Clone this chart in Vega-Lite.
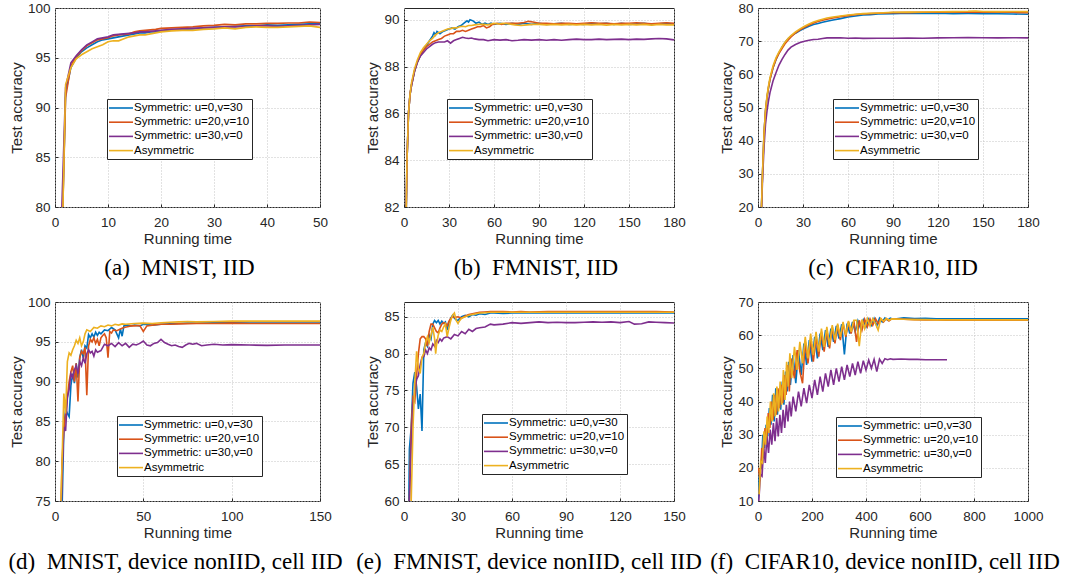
{
"$schema": "https://vega.github.io/schema/vega-lite/v6.json",
"padding": {"left": 7, "top": 0, "right": 4, "bottom": 2},
"background": "white",
"config": {
 "view": {"stroke": "#262626", "strokeWidth": 1},
 "axis": {"labelFont": "Liberation Sans", "labelFontSize": 13.5, "labelColor": "#262626", "titleFont": "Liberation Sans", "titleFontSize": 15, "titleFontWeight": "normal", "titleColor": "#262626", "domain": false, "tickColor": "#262626", "tickSize": -3, "gridColor": "#c4c4c4", "gridDash": [1, 2], "gridWidth": 1, "gridOpacity": 1, "labelFlush": false, "format": "d"},
 "axisX": {"labelPadding": 11, "titlePadding": 3},
 "axisY": {"labelPadding": 8, "titlePadding": 3},
 "legend": {"labelFont": "Liberation Sans", "labelFontSize": 11.5, "labelColor": "#000000", "symbolType": "M-2,0H2", "symbolSize": 144, "symbolStrokeWidth": 2, "symbolOffset": 5, "labelOffset": 6, "padding": 2, "rowPadding": 1.2, "strokeColor": "#262626", "fillColor": "#ffffff", "strokeWidth": 1},
 "title": {"font": "Liberation Serif", "fontSize": 23, "fontWeight": "normal", "color": "#000000", "orient": "bottom", "anchor": "middle", "frame": "group", "offset": 10},
 "line": {"strokeWidth": 1.6, "clip": true}
},
"datasets": {
 "a": [
  {"s":1,"x":1,"y":70},{"s":1,"x":2,"y":91.5},{"s":1,"x":3,"y":94},{"s":1,"x":4,"y":95},{"s":1,"x":5,"y":95.6},{"s":1,"x":6,"y":96},{"s":1,"x":7,"y":96.3},{"s":1,"x":8,"y":96.6},{"s":1,"x":9,"y":96.8},{"s":1,"x":10,"y":96.9},{"s":1,"x":11,"y":97},{"s":1,"x":12,"y":97.1},{"s":1,"x":13,"y":97.2},{"s":1,"x":14,"y":97.3},{"s":1,"x":15,"y":97.4},{"s":1,"x":16,"y":97.5},{"s":1,"x":17,"y":97.5},{"s":1,"x":18,"y":97.6},{"s":1,"x":19,"y":97.6},{"s":1,"x":20,"y":97.7},{"s":1,"x":22,"y":97.8},{"s":1,"x":24,"y":97.85},{"s":1,"x":26,"y":97.9},{"s":1,"x":28,"y":98},{"s":1,"x":30,"y":98.05},{"s":1,"x":32,"y":98.1},{"s":1,"x":34,"y":98.15},{"s":1,"x":36,"y":98.2},{"s":1,"x":38,"y":98.2},{"s":1,"x":40,"y":98.3},{"s":1,"x":42,"y":98.25},{"s":1,"x":44,"y":98.3},{"s":1,"x":46,"y":98.35},{"s":1,"x":48,"y":98.4},{"s":1,"x":50,"y":98.45},
  {"s":2,"x":1,"y":70},{"s":2,"x":2,"y":91},{"s":2,"x":3,"y":94.2},{"s":2,"x":4,"y":95.1},{"s":2,"x":5,"y":95.7},{"s":2,"x":6,"y":96.2},{"s":2,"x":7,"y":96.5},{"s":2,"x":8,"y":96.8},{"s":2,"x":9,"y":96.9},{"s":2,"x":10,"y":97},{"s":2,"x":11,"y":97.2},{"s":2,"x":12,"y":97.3},{"s":2,"x":13,"y":97.35},{"s":2,"x":14,"y":97.4},{"s":2,"x":15,"y":97.6},{"s":2,"x":16,"y":97.7},{"s":2,"x":17,"y":97.75},{"s":2,"x":18,"y":97.8},{"s":2,"x":19,"y":97.85},{"s":2,"x":20,"y":97.95},{"s":2,"x":22,"y":98},{"s":2,"x":24,"y":98.05},{"s":2,"x":26,"y":98.1},{"s":2,"x":28,"y":98.2},{"s":2,"x":30,"y":98.25},{"s":2,"x":32,"y":98.35},{"s":2,"x":34,"y":98.3},{"s":2,"x":36,"y":98.4},{"s":2,"x":38,"y":98.4},{"s":2,"x":40,"y":98.45},{"s":2,"x":42,"y":98.45},{"s":2,"x":44,"y":98.5},{"s":2,"x":46,"y":98.5},{"s":2,"x":48,"y":98.6},{"s":2,"x":50,"y":98.55},
  {"s":3,"x":1,"y":75},{"s":3,"x":2,"y":92},{"s":3,"x":3,"y":94.5},{"s":3,"x":4,"y":95.2},{"s":3,"x":5,"y":95.8},{"s":3,"x":6,"y":96.3},{"s":3,"x":7,"y":96.6},{"s":3,"x":8,"y":96.9},{"s":3,"x":9,"y":97},{"s":3,"x":10,"y":97.1},{"s":3,"x":11,"y":97.3},{"s":3,"x":12,"y":97.35},{"s":3,"x":13,"y":97.4},{"s":3,"x":14,"y":97.45},{"s":3,"x":15,"y":97.5},{"s":3,"x":16,"y":97.6},{"s":3,"x":17,"y":97.6},{"s":3,"x":18,"y":97.65},{"s":3,"x":19,"y":97.7},{"s":3,"x":20,"y":97.75},{"s":3,"x":22,"y":97.85},{"s":3,"x":24,"y":97.9},{"s":3,"x":26,"y":97.95},{"s":3,"x":28,"y":98},{"s":3,"x":30,"y":98.05},{"s":3,"x":32,"y":98.1},{"s":3,"x":34,"y":98.1},{"s":3,"x":36,"y":98.15},{"s":3,"x":38,"y":98.2},{"s":3,"x":40,"y":98.2},{"s":3,"x":42,"y":98.15},{"s":3,"x":44,"y":98.2},{"s":3,"x":46,"y":98.25},{"s":3,"x":48,"y":98.3},{"s":3,"x":50,"y":98.35},
  {"s":4,"x":1,"y":68},{"s":4,"x":2,"y":92.3},{"s":4,"x":3,"y":94},{"s":4,"x":4,"y":94.9},{"s":4,"x":5,"y":95.3},{"s":4,"x":6,"y":95.6},{"s":4,"x":7,"y":95.9},{"s":4,"x":8,"y":96.1},{"s":4,"x":9,"y":96.3},{"s":4,"x":10,"y":96.6},{"s":4,"x":11,"y":96.7},{"s":4,"x":12,"y":96.7},{"s":4,"x":13,"y":96.9},{"s":4,"x":14,"y":97.1},{"s":4,"x":15,"y":97.2},{"s":4,"x":16,"y":97.3},{"s":4,"x":17,"y":97.3},{"s":4,"x":18,"y":97.4},{"s":4,"x":19,"y":97.5},{"s":4,"x":20,"y":97.6},{"s":4,"x":22,"y":97.7},{"s":4,"x":24,"y":97.75},{"s":4,"x":26,"y":97.75},{"s":4,"x":28,"y":97.85},{"s":4,"x":30,"y":97.9},{"s":4,"x":32,"y":98},{"s":4,"x":34,"y":97.9},{"s":4,"x":36,"y":98.05},{"s":4,"x":38,"y":98.1},{"s":4,"x":40,"y":98.05},{"s":4,"x":42,"y":98.05},{"s":4,"x":44,"y":98.1},{"s":4,"x":46,"y":98.15},{"s":4,"x":48,"y":98.2},{"s":4,"x":50,"y":98.05}
 ],
 "b": [
  {"s":1,"x":0,"y":70},{"s":1,"x":1,"y":80},{"s":1,"x":2,"y":84},{"s":1,"x":3,"y":86},{"s":1,"x":4,"y":86.8},{"s":1,"x":5,"y":87.2},{"s":1,"x":7,"y":87.8},{"s":1,"x":9,"y":88.2},{"s":1,"x":11,"y":88.5},{"s":1,"x":13,"y":88.7},{"s":1,"x":15,"y":88.9},{"s":1,"x":17,"y":89.1},{"s":1,"x":19,"y":89.3},{"s":1,"x":20,"y":89.45},{"s":1,"x":21,"y":89.35},{"s":1,"x":22,"y":89.5},{"s":1,"x":24,"y":89.4},{"s":1,"x":26,"y":89.5},{"s":1,"x":28,"y":89.55},{"s":1,"x":30,"y":89.6},{"s":1,"x":32,"y":89.65},{"s":1,"x":34,"y":89.6},{"s":1,"x":36,"y":89.7},{"s":1,"x":38,"y":89.75},{"s":1,"x":40,"y":89.85},{"s":1,"x":42,"y":89.95},{"s":1,"x":43,"y":89.9},{"s":1,"x":44,"y":90},{"s":1,"x":46,"y":89.95},{"s":1,"x":48,"y":89.85},{"s":1,"x":50,"y":89.9},{"s":1,"x":52,"y":89.8},{"s":1,"x":54,"y":89.85},{"s":1,"x":56,"y":89.8},{"s":1,"x":58,"y":89.85},{"s":1,"x":60,"y":89.8},{"s":1,"x":64,"y":89.85},{"s":1,"x":68,"y":89.8},{"s":1,"x":72,"y":89.85},{"s":1,"x":76,"y":89.8},{"s":1,"x":80,"y":89.85},{"s":1,"x":85,"y":89.8},{"s":1,"x":90,"y":89.85},{"s":1,"x":95,"y":89.8},{"s":1,"x":100,"y":89.82},{"s":1,"x":105,"y":89.85},{"s":1,"x":110,"y":89.8},{"s":1,"x":115,"y":89.82},{"s":1,"x":120,"y":89.8},{"s":1,"x":125,"y":89.85},{"s":1,"x":130,"y":89.82},{"s":1,"x":135,"y":89.85},{"s":1,"x":140,"y":89.8},{"s":1,"x":145,"y":89.85},{"s":1,"x":150,"y":89.8},{"s":1,"x":155,"y":89.82},{"s":1,"x":160,"y":89.85},{"s":1,"x":165,"y":89.8},{"s":1,"x":170,"y":89.82},{"s":1,"x":175,"y":89.85},{"s":1,"x":180,"y":89.8},
  {"s":2,"x":0,"y":70},{"s":2,"x":1,"y":80},{"s":2,"x":2,"y":84},{"s":2,"x":3,"y":86},{"s":2,"x":4,"y":86.8},{"s":2,"x":5,"y":87.2},{"s":2,"x":7,"y":87.8},{"s":2,"x":9,"y":88.2},{"s":2,"x":11,"y":88.5},{"s":2,"x":13,"y":88.7},{"s":2,"x":15,"y":88.85},{"s":2,"x":17,"y":88.95},{"s":2,"x":19,"y":89.05},{"s":2,"x":21,"y":89.1},{"s":2,"x":23,"y":89.15},{"s":2,"x":25,"y":89.2},{"s":2,"x":27,"y":89.3},{"s":2,"x":29,"y":89.35},{"s":2,"x":31,"y":89.4},{"s":2,"x":33,"y":89.4},{"s":2,"x":35,"y":89.5},{"s":2,"x":37,"y":89.5},{"s":2,"x":39,"y":89.55},{"s":2,"x":41,"y":89.5},{"s":2,"x":43,"y":89.55},{"s":2,"x":45,"y":89.6},{"s":2,"x":47,"y":89.65},{"s":2,"x":49,"y":89.7},{"s":2,"x":51,"y":89.7},{"s":2,"x":53,"y":89.75},{"s":2,"x":55,"y":89.65},{"s":2,"x":57,"y":89.7},{"s":2,"x":59,"y":89.8},{"s":2,"x":62,"y":89.85},{"s":2,"x":65,"y":89.8},{"s":2,"x":68,"y":89.85},{"s":2,"x":72,"y":89.85},{"s":2,"x":76,"y":89.85},{"s":2,"x":80,"y":89.88},{"s":2,"x":83,"y":89.93},{"s":2,"x":86,"y":89.9},{"s":2,"x":90,"y":89.85},{"s":2,"x":95,"y":89.85},{"s":2,"x":100,"y":89.82},{"s":2,"x":105,"y":89.85},{"s":2,"x":110,"y":89.85},{"s":2,"x":115,"y":89.82},{"s":2,"x":120,"y":89.85},{"s":2,"x":125,"y":89.87},{"s":2,"x":130,"y":89.85},{"s":2,"x":135,"y":89.85},{"s":2,"x":140,"y":89.82},{"s":2,"x":145,"y":89.85},{"s":2,"x":150,"y":89.85},{"s":2,"x":155,"y":89.87},{"s":2,"x":160,"y":89.85},{"s":2,"x":165,"y":89.83},{"s":2,"x":170,"y":89.85},{"s":2,"x":175,"y":89.87},{"s":2,"x":180,"y":89.85},
  {"s":3,"x":0,"y":70},{"s":3,"x":1,"y":80},{"s":3,"x":2,"y":84},{"s":3,"x":3,"y":86},{"s":3,"x":4,"y":86.8},{"s":3,"x":5,"y":87.2},{"s":3,"x":7,"y":87.8},{"s":3,"x":9,"y":88.2},{"s":3,"x":11,"y":88.45},{"s":3,"x":13,"y":88.6},{"s":3,"x":15,"y":88.75},{"s":3,"x":17,"y":88.85},{"s":3,"x":19,"y":88.95},{"s":3,"x":21,"y":89.02},{"s":3,"x":23,"y":89.05},{"s":3,"x":25,"y":89.05},{"s":3,"x":27,"y":89.05},{"s":3,"x":29,"y":89.1},{"s":3,"x":31,"y":89},{"s":3,"x":33,"y":89.1},{"s":3,"x":35,"y":89.15},{"s":3,"x":37,"y":89.2},{"s":3,"x":39,"y":89.25},{"s":3,"x":41,"y":89.22},{"s":3,"x":43,"y":89.2},{"s":3,"x":45,"y":89.22},{"s":3,"x":47,"y":89.18},{"s":3,"x":50,"y":89.15},{"s":3,"x":53,"y":89.15},{"s":3,"x":56,"y":89.1},{"s":3,"x":60,"y":89.15},{"s":3,"x":64,"y":89.13},{"s":3,"x":68,"y":89.15},{"s":3,"x":72,"y":89.1},{"s":3,"x":76,"y":89.12},{"s":3,"x":80,"y":89.15},{"s":3,"x":85,"y":89.13},{"s":3,"x":90,"y":89.15},{"s":3,"x":95,"y":89.12},{"s":3,"x":100,"y":89.15},{"s":3,"x":105,"y":89.12},{"s":3,"x":110,"y":89.15},{"s":3,"x":115,"y":89.17},{"s":3,"x":120,"y":89.15},{"s":3,"x":125,"y":89.15},{"s":3,"x":130,"y":89.17},{"s":3,"x":135,"y":89.15},{"s":3,"x":140,"y":89.16},{"s":3,"x":145,"y":89.17},{"s":3,"x":150,"y":89.15},{"s":3,"x":155,"y":89.17},{"s":3,"x":160,"y":89.16},{"s":3,"x":165,"y":89.18},{"s":3,"x":170,"y":89.2},{"s":3,"x":175,"y":89.18},{"s":3,"x":180,"y":89.14},
  {"s":4,"x":0,"y":70},{"s":4,"x":1,"y":80},{"s":4,"x":2,"y":84},{"s":4,"x":3,"y":86},{"s":4,"x":4,"y":86.8},{"s":4,"x":5,"y":87.3},{"s":4,"x":7,"y":87.9},{"s":4,"x":9,"y":88.3},{"s":4,"x":11,"y":88.6},{"s":4,"x":13,"y":88.8},{"s":4,"x":15,"y":88.95},{"s":4,"x":17,"y":89.1},{"s":4,"x":19,"y":89.2},{"s":4,"x":21,"y":89.35},{"s":4,"x":23,"y":89.45},{"s":4,"x":25,"y":89.5},{"s":4,"x":27,"y":89.55},{"s":4,"x":29,"y":89.6},{"s":4,"x":31,"y":89.62},{"s":4,"x":33,"y":89.65},{"s":4,"x":35,"y":89.65},{"s":4,"x":37,"y":89.7},{"s":4,"x":39,"y":89.72},{"s":4,"x":41,"y":89.7},{"s":4,"x":43,"y":89.75},{"s":4,"x":45,"y":89.75},{"s":4,"x":47,"y":89.78},{"s":4,"x":50,"y":89.8},{"s":4,"x":53,"y":89.8},{"s":4,"x":56,"y":89.78},{"s":4,"x":60,"y":89.85},{"s":4,"x":63,"y":89.82},{"s":4,"x":66,"y":89.85},{"s":4,"x":70,"y":89.82},{"s":4,"x":74,"y":89.78},{"s":4,"x":78,"y":89.75},{"s":4,"x":82,"y":89.78},{"s":4,"x":86,"y":89.8},{"s":4,"x":90,"y":89.8},{"s":4,"x":95,"y":89.78},{"s":4,"x":100,"y":89.8},{"s":4,"x":105,"y":89.78},{"s":4,"x":110,"y":89.8},{"s":4,"x":115,"y":89.78},{"s":4,"x":120,"y":89.8},{"s":4,"x":125,"y":89.78},{"s":4,"x":130,"y":89.8},{"s":4,"x":135,"y":89.77},{"s":4,"x":140,"y":89.8},{"s":4,"x":145,"y":89.78},{"s":4,"x":150,"y":89.8},{"s":4,"x":155,"y":89.78},{"s":4,"x":160,"y":89.8},{"s":4,"x":165,"y":89.77},{"s":4,"x":170,"y":89.8},{"s":4,"x":175,"y":89.78},{"s":4,"x":180,"y":89.78}
 ],
 "c": [
  {"s":1,"x":1,"y":5},{"s":1,"x":2,"y":15},{"s":1,"x":3,"y":30},{"s":1,"x":4,"y":42},{"s":1,"x":5,"y":49},{"s":1,"x":6,"y":53},{"s":1,"x":7,"y":56},{"s":1,"x":8,"y":58.5},{"s":1,"x":10,"y":62},{"s":1,"x":12,"y":64.5},{"s":1,"x":14,"y":66.5},{"s":1,"x":16,"y":68.2},{"s":1,"x":18,"y":69.6},{"s":1,"x":20,"y":70.7},{"s":1,"x":22,"y":71.5},{"s":1,"x":25,"y":72.4},{"s":1,"x":28,"y":73.2},{"s":1,"x":31,"y":73.9},{"s":1,"x":34,"y":74.5},{"s":1,"x":37,"y":75},{"s":1,"x":40,"y":75.3},{"s":1,"x":43,"y":75.7},{"s":1,"x":46,"y":76},{"s":1,"x":50,"y":76.4},{"s":1,"x":55,"y":76.8},{"s":1,"x":60,"y":77.3},{"s":1,"x":65,"y":77.6},{"s":1,"x":70,"y":77.9},{"s":1,"x":75,"y":78},{"s":1,"x":80,"y":78.2},{"s":1,"x":90,"y":78.3},{"s":1,"x":100,"y":78.4},{"s":1,"x":110,"y":78.35},{"s":1,"x":120,"y":78.4},{"s":1,"x":130,"y":78.3},{"s":1,"x":140,"y":78.35},{"s":1,"x":150,"y":78.3},{"s":1,"x":160,"y":78.25},{"s":1,"x":170,"y":78.2},{"s":1,"x":180,"y":78.1},
  {"s":2,"x":1,"y":5},{"s":2,"x":2,"y":15},{"s":2,"x":3,"y":30},{"s":2,"x":4,"y":42},{"s":2,"x":5,"y":49},{"s":2,"x":6,"y":53},{"s":2,"x":7,"y":56},{"s":2,"x":8,"y":58.5},{"s":2,"x":10,"y":62},{"s":2,"x":12,"y":64.5},{"s":2,"x":14,"y":66.3},{"s":2,"x":16,"y":67.8},{"s":2,"x":18,"y":69.2},{"s":2,"x":20,"y":70.3},{"s":2,"x":22,"y":71.3},{"s":2,"x":25,"y":72.5},{"s":2,"x":28,"y":73.4},{"s":2,"x":31,"y":74.2},{"s":2,"x":34,"y":74.9},{"s":2,"x":37,"y":75.5},{"s":2,"x":40,"y":75.9},{"s":2,"x":43,"y":76.3},{"s":2,"x":46,"y":76.6},{"s":2,"x":50,"y":77},{"s":2,"x":55,"y":77.4},{"s":2,"x":60,"y":77.7},{"s":2,"x":65,"y":78},{"s":2,"x":70,"y":78.2},{"s":2,"x":75,"y":78.3},{"s":2,"x":80,"y":78.4},{"s":2,"x":90,"y":78.6},{"s":2,"x":100,"y":78.6},{"s":2,"x":110,"y":78.7},{"s":2,"x":120,"y":78.7},{"s":2,"x":130,"y":78.75},{"s":2,"x":140,"y":78.8},{"s":2,"x":150,"y":78.7},{"s":2,"x":160,"y":78.75},{"s":2,"x":170,"y":78.7},{"s":2,"x":180,"y":78.6},
  {"s":3,"x":1,"y":5},{"s":3,"x":2,"y":15},{"s":3,"x":3,"y":28},{"s":3,"x":4,"y":38},{"s":3,"x":5,"y":45},{"s":3,"x":6,"y":49},{"s":3,"x":7,"y":52},{"s":3,"x":8,"y":54.5},{"s":3,"x":10,"y":58},{"s":3,"x":12,"y":60.5},{"s":3,"x":14,"y":62.8},{"s":3,"x":16,"y":64.5},{"s":3,"x":18,"y":66},{"s":3,"x":20,"y":67.3},{"s":3,"x":22,"y":68.2},{"s":3,"x":25,"y":69},{"s":3,"x":28,"y":69.6},{"s":3,"x":31,"y":70},{"s":3,"x":34,"y":70.3},{"s":3,"x":37,"y":70.5},{"s":3,"x":40,"y":70.6},{"s":3,"x":43,"y":70.8},{"s":3,"x":46,"y":71},{"s":3,"x":50,"y":71},{"s":3,"x":55,"y":71.05},{"s":3,"x":60,"y":70.9},{"s":3,"x":65,"y":70.95},{"s":3,"x":70,"y":70.85},{"s":3,"x":80,"y":70.9},{"s":3,"x":90,"y":70.9},{"s":3,"x":100,"y":70.95},{"s":3,"x":110,"y":70.9},{"s":3,"x":120,"y":71},{"s":3,"x":130,"y":71.05},{"s":3,"x":140,"y":71.1},{"s":3,"x":150,"y":71.05},{"s":3,"x":160,"y":71},{"s":3,"x":170,"y":71.05},{"s":3,"x":180,"y":71},
  {"s":4,"x":1,"y":5},{"s":4,"x":2,"y":15},{"s":4,"x":3,"y":30},{"s":4,"x":4,"y":42},{"s":4,"x":5,"y":49},{"s":4,"x":6,"y":53.5},{"s":4,"x":7,"y":56.5},{"s":4,"x":8,"y":59},{"s":4,"x":10,"y":62.5},{"s":4,"x":12,"y":65},{"s":4,"x":14,"y":66.8},{"s":4,"x":16,"y":68.3},{"s":4,"x":18,"y":69.7},{"s":4,"x":20,"y":70.8},{"s":4,"x":22,"y":71.7},{"s":4,"x":25,"y":72.8},{"s":4,"x":28,"y":73.7},{"s":4,"x":31,"y":74.5},{"s":4,"x":34,"y":75.2},{"s":4,"x":37,"y":75.8},{"s":4,"x":40,"y":76.2},{"s":4,"x":43,"y":76.6},{"s":4,"x":46,"y":77},{"s":4,"x":50,"y":77.3},{"s":4,"x":55,"y":77.6},{"s":4,"x":60,"y":77.9},{"s":4,"x":65,"y":78.1},{"s":4,"x":70,"y":78.3},{"s":4,"x":75,"y":78.4},{"s":4,"x":80,"y":78.5},{"s":4,"x":90,"y":78.7},{"s":4,"x":100,"y":78.75},{"s":4,"x":110,"y":78.8},{"s":4,"x":120,"y":78.85},{"s":4,"x":130,"y":78.9},{"s":4,"x":140,"y":79},{"s":4,"x":145,"y":79.1},{"s":4,"x":150,"y":78.95},{"s":4,"x":160,"y":78.9},{"s":4,"x":170,"y":78.95},{"s":4,"x":180,"y":78.9}
 ],
 "d": [
  {"s":1,"x":3,"y":60},{"s":1,"x":4,"y":74},{"s":1,"x":5,"y":84},{"s":1,"x":6,"y":86.5},{"s":1,"x":7,"y":86},{"s":1,"x":8,"y":85.6},{"s":1,"x":9,"y":89.5},{"s":1,"x":10,"y":91},{"s":1,"x":11,"y":89.8},{"s":1,"x":12,"y":92.3},{"s":1,"x":13,"y":90.5},{"s":1,"x":14,"y":93},{"s":1,"x":15,"y":94},{"s":1,"x":16,"y":93},{"s":1,"x":17,"y":94.5},{"s":1,"x":18,"y":94.2},{"s":1,"x":19,"y":95.9},{"s":1,"x":20,"y":95.5},{"s":1,"x":21,"y":96},{"s":1,"x":22,"y":95.6},{"s":1,"x":23,"y":96.2},{"s":1,"x":24,"y":95.8},{"s":1,"x":25,"y":96.2},{"s":1,"x":26,"y":96},{"s":1,"x":28,"y":96.5},{"s":1,"x":30,"y":96.4},{"s":1,"x":32,"y":96.8},{"s":1,"x":34,"y":96.5},{"s":1,"x":36,"y":95.5},{"s":1,"x":37,"y":96.6},{"s":1,"x":38,"y":95.7},{"s":1,"x":39,"y":97},{"s":1,"x":41,"y":97.1},{"s":1,"x":43,"y":97},{"s":1,"x":45,"y":97.1},{"s":1,"x":48,"y":97},{"s":1,"x":50,"y":97.2},{"s":1,"x":55,"y":97.1},{"s":1,"x":60,"y":97.2},{"s":1,"x":65,"y":97.25},{"s":1,"x":70,"y":97.3},{"s":1,"x":75,"y":97.35},{"s":1,"x":80,"y":97.35},{"s":1,"x":90,"y":97.4},{"s":1,"x":100,"y":97.45},{"s":1,"x":110,"y":97.5},{"s":1,"x":120,"y":97.5},{"s":1,"x":130,"y":97.5},{"s":1,"x":140,"y":97.5},{"s":1,"x":150,"y":97.5},
  {"s":2,"x":3,"y":70},{"s":2,"x":4,"y":80},{"s":2,"x":5,"y":84},{"s":2,"x":6,"y":86},{"s":2,"x":7,"y":88},{"s":2,"x":8,"y":90},{"s":2,"x":9,"y":91.2},{"s":2,"x":10,"y":92},{"s":2,"x":11,"y":90},{"s":2,"x":12,"y":92.3},{"s":2,"x":13,"y":87.5},{"s":2,"x":14,"y":93},{"s":2,"x":15,"y":93.8},{"s":2,"x":16,"y":93.5},{"s":2,"x":17,"y":94.3},{"s":2,"x":18,"y":88.3},{"s":2,"x":19,"y":94.5},{"s":2,"x":20,"y":95.3},{"s":2,"x":21,"y":95},{"s":2,"x":22,"y":95.5},{"s":2,"x":23,"y":94.8},{"s":2,"x":24,"y":95.3},{"s":2,"x":25,"y":94.5},{"s":2,"x":26,"y":95.5},{"s":2,"x":27,"y":95.8},{"s":2,"x":28,"y":96},{"s":2,"x":29,"y":95.5},{"s":2,"x":30,"y":93},{"s":2,"x":31,"y":96.3},{"s":2,"x":32,"y":96.1},{"s":2,"x":33,"y":96.5},{"s":2,"x":35,"y":96.4},{"s":2,"x":37,"y":96.6},{"s":2,"x":39,"y":96.8},{"s":2,"x":41,"y":96.9},{"s":2,"x":43,"y":97},{"s":2,"x":45,"y":97},{"s":2,"x":48,"y":97.05},{"s":2,"x":50,"y":96.3},{"s":2,"x":52,"y":97},{"s":2,"x":55,"y":97.1},{"s":2,"x":60,"y":97.2},{"s":2,"x":65,"y":97.2},{"s":2,"x":70,"y":97.25},{"s":2,"x":80,"y":97.3},{"s":2,"x":90,"y":97.3},{"s":2,"x":100,"y":97.35},{"s":2,"x":110,"y":97.3},{"s":2,"x":120,"y":97.3},{"s":2,"x":130,"y":97.3},{"s":2,"x":140,"y":97.3},{"s":2,"x":150,"y":97.3},
  {"s":3,"x":3,"y":70},{"s":3,"x":4,"y":78},{"s":3,"x":5,"y":84.3},{"s":3,"x":6,"y":83.8},{"s":3,"x":7,"y":88},{"s":3,"x":8,"y":89},{"s":3,"x":9,"y":91},{"s":3,"x":10,"y":90.5},{"s":3,"x":11,"y":91.5},{"s":3,"x":12,"y":92},{"s":3,"x":13,"y":91},{"s":3,"x":14,"y":92.5},{"s":3,"x":15,"y":92},{"s":3,"x":16,"y":93},{"s":3,"x":17,"y":92.3},{"s":3,"x":18,"y":93.5},{"s":3,"x":19,"y":94},{"s":3,"x":20,"y":93.6},{"s":3,"x":21,"y":93.8},{"s":3,"x":22,"y":93.2},{"s":3,"x":23,"y":94},{"s":3,"x":24,"y":93.7},{"s":3,"x":26,"y":93.9},{"s":3,"x":28,"y":94.7},{"s":3,"x":30,"y":94.5},{"s":3,"x":32,"y":94.8},{"s":3,"x":34,"y":94.4},{"s":3,"x":36,"y":94.9},{"s":3,"x":38,"y":94.5},{"s":3,"x":40,"y":94.8},{"s":3,"x":42,"y":94.3},{"s":3,"x":44,"y":94.7},{"s":3,"x":46,"y":94.6},{"s":3,"x":48,"y":94.8},{"s":3,"x":50,"y":95.1},{"s":3,"x":52,"y":94.6},{"s":3,"x":54,"y":94.5},{"s":3,"x":56,"y":94.8},{"s":3,"x":58,"y":94.9},{"s":3,"x":60,"y":95.3},{"s":3,"x":62,"y":94.9},{"s":3,"x":64,"y":94.7},{"s":3,"x":66,"y":94.5},{"s":3,"x":68,"y":94.6},{"s":3,"x":70,"y":94.4},{"s":3,"x":72,"y":94.3},{"s":3,"x":74,"y":94.6},{"s":3,"x":76,"y":94.8},{"s":3,"x":78,"y":94.7},{"s":3,"x":80,"y":94.8},{"s":3,"x":83,"y":94.5},{"s":3,"x":86,"y":94.6},{"s":3,"x":90,"y":94.7},{"s":3,"x":95,"y":94.6},{"s":3,"x":100,"y":94.65},{"s":3,"x":110,"y":94.6},{"s":3,"x":120,"y":94.55},{"s":3,"x":130,"y":94.6},{"s":3,"x":140,"y":94.6},{"s":3,"x":150,"y":94.6},
  {"s":4,"x":3,"y":72},{"s":4,"x":4,"y":80},{"s":4,"x":5,"y":88.5},{"s":4,"x":6,"y":86},{"s":4,"x":7,"y":92.5},{"s":4,"x":8,"y":93.6},{"s":4,"x":9,"y":93.3},{"s":4,"x":10,"y":94},{"s":4,"x":11,"y":94.5},{"s":4,"x":12,"y":95.2},{"s":4,"x":13,"y":94.8},{"s":4,"x":14,"y":95.5},{"s":4,"x":15,"y":94.5},{"s":4,"x":16,"y":95},{"s":4,"x":17,"y":96},{"s":4,"x":18,"y":96.5},{"s":4,"x":20,"y":96.3},{"s":4,"x":22,"y":96.8},{"s":4,"x":24,"y":96.7},{"s":4,"x":26,"y":97},{"s":4,"x":28,"y":96.9},{"s":4,"x":30,"y":97.1},{"s":4,"x":32,"y":97},{"s":4,"x":34,"y":97.2},{"s":4,"x":36,"y":97.1},{"s":4,"x":38,"y":97.25},{"s":4,"x":40,"y":97.2},{"s":4,"x":45,"y":97.3},{"s":4,"x":50,"y":97.35},{"s":4,"x":55,"y":97.3},{"s":4,"x":60,"y":97.4},{"s":4,"x":65,"y":97.45},{"s":4,"x":70,"y":97.5},{"s":4,"x":75,"y":97.55},{"s":4,"x":80,"y":97.5},{"s":4,"x":90,"y":97.55},{"s":4,"x":100,"y":97.6},{"s":4,"x":110,"y":97.6},{"s":4,"x":120,"y":97.6},{"s":4,"x":130,"y":97.6},{"s":4,"x":140,"y":97.6},{"s":4,"x":150,"y":97.6}
 ],
 "e": [
  {"s":1,"x":2,"y":45},{"s":1,"x":3,"y":67},{"s":1,"x":4,"y":70},{"s":1,"x":5,"y":76},{"s":1,"x":6,"y":77.5},{"s":1,"x":7,"y":75.5},{"s":1,"x":8,"y":72.5},{"s":1,"x":9,"y":74.5},{"s":1,"x":10,"y":69.5},{"s":1,"x":11,"y":80.5},{"s":1,"x":12,"y":81.5},{"s":1,"x":13,"y":81},{"s":1,"x":14,"y":82.5},{"s":1,"x":15,"y":82},{"s":1,"x":16,"y":84},{"s":1,"x":17,"y":84.5},{"s":1,"x":18,"y":84.2},{"s":1,"x":19,"y":84.5},{"s":1,"x":20,"y":84},{"s":1,"x":21,"y":84.4},{"s":1,"x":22,"y":84.1},{"s":1,"x":23,"y":84.3},{"s":1,"x":24,"y":83.2},{"s":1,"x":25,"y":84.2},{"s":1,"x":26,"y":84.8},{"s":1,"x":27,"y":85.2},{"s":1,"x":28,"y":84.8},{"s":1,"x":29,"y":84.6},{"s":1,"x":30,"y":84.5},{"s":1,"x":32,"y":85},{"s":1,"x":34,"y":85.2},{"s":1,"x":36,"y":85},{"s":1,"x":38,"y":85.3},{"s":1,"x":40,"y":85.2},{"s":1,"x":42,"y":85.4},{"s":1,"x":45,"y":85.3},{"s":1,"x":48,"y":85.5},{"s":1,"x":50,"y":85.5},{"s":1,"x":55,"y":85.45},{"s":1,"x":60,"y":85.5},{"s":1,"x":65,"y":85.55},{"s":1,"x":70,"y":85.5},{"s":1,"x":80,"y":85.55},{"s":1,"x":90,"y":85.5},{"s":1,"x":100,"y":85.55},{"s":1,"x":110,"y":85.5},{"s":1,"x":120,"y":85.5},{"s":1,"x":130,"y":85.55},{"s":1,"x":140,"y":85.5},{"s":1,"x":150,"y":85.5},
  {"s":2,"x":2,"y":40},{"s":2,"x":3,"y":60},{"s":2,"x":4,"y":70},{"s":2,"x":5,"y":74},{"s":2,"x":6,"y":73.5},{"s":2,"x":7,"y":77},{"s":2,"x":8,"y":80},{"s":2,"x":9,"y":82},{"s":2,"x":10,"y":82.3},{"s":2,"x":11,"y":82.3},{"s":2,"x":12,"y":82},{"s":2,"x":13,"y":81},{"s":2,"x":14,"y":83},{"s":2,"x":15,"y":84},{"s":2,"x":16,"y":84},{"s":2,"x":17,"y":83.5},{"s":2,"x":18,"y":83},{"s":2,"x":19,"y":82.8},{"s":2,"x":20,"y":83.5},{"s":2,"x":21,"y":84},{"s":2,"x":22,"y":84.2},{"s":2,"x":23,"y":84.1},{"s":2,"x":24,"y":83.8},{"s":2,"x":25,"y":84.4},{"s":2,"x":26,"y":84.8},{"s":2,"x":27,"y":85},{"s":2,"x":28,"y":84.9},{"s":2,"x":30,"y":85},{"s":2,"x":32,"y":84.8},{"s":2,"x":34,"y":85.1},{"s":2,"x":36,"y":85.3},{"s":2,"x":38,"y":85.4},{"s":2,"x":40,"y":85.5},{"s":2,"x":42,"y":85.6},{"s":2,"x":45,"y":85.65},{"s":2,"x":48,"y":85.7},{"s":2,"x":50,"y":85.7},{"s":2,"x":55,"y":85.7},{"s":2,"x":60,"y":85.65},{"s":2,"x":65,"y":85.7},{"s":2,"x":70,"y":85.65},{"s":2,"x":80,"y":85.7},{"s":2,"x":90,"y":85.7},{"s":2,"x":100,"y":85.7},{"s":2,"x":110,"y":85.7},{"s":2,"x":120,"y":85.7},{"s":2,"x":130,"y":85.7},{"s":2,"x":140,"y":85.7},{"s":2,"x":150,"y":85.65},
  {"s":3,"x":2,"y":45},{"s":3,"x":3,"y":60},{"s":3,"x":4,"y":68},{"s":3,"x":5,"y":73},{"s":3,"x":6,"y":75},{"s":3,"x":7,"y":76.5},{"s":3,"x":8,"y":77},{"s":3,"x":9,"y":78.5},{"s":3,"x":10,"y":79.5},{"s":3,"x":11,"y":79.6},{"s":3,"x":12,"y":80.5},{"s":3,"x":13,"y":80},{"s":3,"x":14,"y":80.8},{"s":3,"x":15,"y":80.5},{"s":3,"x":16,"y":81.3},{"s":3,"x":17,"y":81},{"s":3,"x":18,"y":81.8},{"s":3,"x":19,"y":81.5},{"s":3,"x":20,"y":82},{"s":3,"x":21,"y":81.7},{"s":3,"x":22,"y":82.1},{"s":3,"x":24,"y":82.3},{"s":3,"x":26,"y":82},{"s":3,"x":28,"y":82.6},{"s":3,"x":30,"y":82.4},{"s":3,"x":32,"y":83},{"s":3,"x":34,"y":82.7},{"s":3,"x":36,"y":83.3},{"s":3,"x":38,"y":83},{"s":3,"x":40,"y":83.4},{"s":3,"x":42,"y":83.5},{"s":3,"x":45,"y":83.6},{"s":3,"x":48,"y":84},{"s":3,"x":50,"y":83.9},{"s":3,"x":55,"y":84},{"s":3,"x":60,"y":84.2},{"s":3,"x":65,"y":84.1},{"s":3,"x":70,"y":84.2},{"s":3,"x":75,"y":84.3},{"s":3,"x":80,"y":84.2},{"s":3,"x":85,"y":84.25},{"s":3,"x":90,"y":84.2},{"s":3,"x":95,"y":84.2},{"s":3,"x":100,"y":84.25},{"s":3,"x":105,"y":84.3},{"s":3,"x":110,"y":84.25},{"s":3,"x":115,"y":84.3},{"s":3,"x":120,"y":84.2},{"s":3,"x":125,"y":84.35},{"s":3,"x":128,"y":84},{"s":3,"x":132,"y":84.05},{"s":3,"x":136,"y":84.3},{"s":3,"x":140,"y":84.25},{"s":3,"x":145,"y":84.2},{"s":3,"x":150,"y":84.15},
  {"s":4,"x":2,"y":40},{"s":4,"x":3,"y":55},{"s":4,"x":4,"y":60},{"s":4,"x":5,"y":70},{"s":4,"x":6,"y":76},{"s":4,"x":7,"y":80.3},{"s":4,"x":8,"y":78},{"s":4,"x":9,"y":77.3},{"s":4,"x":10,"y":79.5},{"s":4,"x":11,"y":80},{"s":4,"x":12,"y":81.5},{"s":4,"x":13,"y":82.3},{"s":4,"x":14,"y":81.5},{"s":4,"x":15,"y":82.5},{"s":4,"x":16,"y":83.6},{"s":4,"x":17,"y":82},{"s":4,"x":17.6,"y":80},{"s":4,"x":18,"y":81},{"s":4,"x":19,"y":82.5},{"s":4,"x":20,"y":83.2},{"s":4,"x":21,"y":83},{"s":4,"x":22,"y":83.6},{"s":4,"x":23,"y":84},{"s":4,"x":24,"y":82.3},{"s":4,"x":25,"y":83.5},{"s":4,"x":26,"y":84.5},{"s":4,"x":27,"y":85.2},{"s":4,"x":28,"y":85.5},{"s":4,"x":29,"y":84.5},{"s":4,"x":30,"y":84.1},{"s":4,"x":31,"y":84.5},{"s":4,"x":32,"y":84.8},{"s":4,"x":34,"y":85},{"s":4,"x":36,"y":85.2},{"s":4,"x":38,"y":85.3},{"s":4,"x":40,"y":85.4},{"s":4,"x":42,"y":85.5},{"s":4,"x":45,"y":85.55},{"s":4,"x":48,"y":85.6},{"s":4,"x":50,"y":85.6},{"s":4,"x":55,"y":85.6},{"s":4,"x":60,"y":85.6},{"s":4,"x":70,"y":85.6},{"s":4,"x":80,"y":85.6},{"s":4,"x":90,"y":85.6},{"s":4,"x":100,"y":85.6},{"s":4,"x":110,"y":85.6},{"s":4,"x":120,"y":85.6},{"s":4,"x":130,"y":85.6},{"s":4,"x":140,"y":85.6},{"s":4,"x":150,"y":85.6}
 ],
 "f": [
  {"s":1,"x":0,"y":10},{"s":1,"x":6,"y":19},{"s":1,"x":12,"y":20},{"s":1,"x":18,"y":30},{"s":1,"x":24,"y":26},{"s":1,"x":30,"y":33},{"s":1,"x":36,"y":29.5},{"s":1,"x":42,"y":38},{"s":1,"x":48,"y":33},{"s":1,"x":54,"y":42},{"s":1,"x":60,"y":34},{"s":1,"x":66,"y":44},{"s":1,"x":72,"y":36},{"s":1,"x":78,"y":43.5},{"s":1,"x":84,"y":37.5},{"s":1,"x":90,"y":46},{"s":1,"x":96,"y":39},{"s":1,"x":102,"y":49},{"s":1,"x":108,"y":43},{"s":1,"x":114,"y":52},{"s":1,"x":120,"y":45},{"s":1,"x":130,"y":54},{"s":1,"x":140,"y":45.5},{"s":1,"x":150,"y":55.5},{"s":1,"x":160,"y":48},{"s":1,"x":170,"y":57.5},{"s":1,"x":180,"y":51},{"s":1,"x":190,"y":58.5},{"s":1,"x":200,"y":52},{"s":1,"x":210,"y":59.5},{"s":1,"x":220,"y":53},{"s":1,"x":230,"y":60.5},{"s":1,"x":240,"y":55.5},{"s":1,"x":250,"y":61.5},{"s":1,"x":260,"y":56.5},{"s":1,"x":270,"y":62},{"s":1,"x":280,"y":58},{"s":1,"x":290,"y":62.8},{"s":1,"x":300,"y":59},{"s":1,"x":310,"y":63.3},{"s":1,"x":320,"y":54.2},{"s":1,"x":330,"y":63.5},{"s":1,"x":340,"y":60.5},{"s":1,"x":350,"y":64},{"s":1,"x":360,"y":61},{"s":1,"x":370,"y":64.3},{"s":1,"x":380,"y":62},{"s":1,"x":390,"y":64.6},{"s":1,"x":400,"y":62.5},{"s":1,"x":410,"y":64.8},{"s":1,"x":420,"y":63},{"s":1,"x":430,"y":65},{"s":1,"x":440,"y":62.8},{"s":1,"x":450,"y":65.1},{"s":1,"x":460,"y":64},{"s":1,"x":470,"y":65.2},{"s":1,"x":480,"y":64.5},{"s":1,"x":490,"y":65.1},{"s":1,"x":500,"y":64.8},{"s":1,"x":540,"y":65.2},{"s":1,"x":580,"y":65},{"s":1,"x":620,"y":65.1},{"s":1,"x":660,"y":64.9},{"s":1,"x":700,"y":64.9},{"s":1,"x":750,"y":64.9},{"s":1,"x":800,"y":64.9},{"s":1,"x":850,"y":64.9},{"s":1,"x":900,"y":64.9},{"s":1,"x":950,"y":64.9},{"s":1,"x":1000,"y":64.9},
  {"s":2,"x":2,"y":20},{"s":2,"x":8,"y":16},{"s":2,"x":14,"y":26},{"s":2,"x":20,"y":24},{"s":2,"x":26,"y":32},{"s":2,"x":32,"y":28},{"s":2,"x":38,"y":36.5},{"s":2,"x":44,"y":32},{"s":2,"x":50,"y":40},{"s":2,"x":56,"y":34.5},{"s":2,"x":62,"y":42},{"s":2,"x":68,"y":36},{"s":2,"x":74,"y":44},{"s":2,"x":80,"y":38},{"s":2,"x":86,"y":45},{"s":2,"x":92,"y":39.5},{"s":2,"x":98,"y":48},{"s":2,"x":104,"y":42},{"s":2,"x":110,"y":51},{"s":2,"x":116,"y":43},{"s":2,"x":122,"y":53},{"s":2,"x":135,"y":47},{"s":2,"x":145,"y":55.5},{"s":2,"x":155,"y":49},{"s":2,"x":165,"y":45.5},{"s":2,"x":175,"y":58},{"s":2,"x":185,"y":51.5},{"s":2,"x":195,"y":59},{"s":2,"x":205,"y":52},{"s":2,"x":215,"y":59.5},{"s":2,"x":225,"y":53.5},{"s":2,"x":235,"y":61},{"s":2,"x":245,"y":55},{"s":2,"x":255,"y":61.5},{"s":2,"x":265,"y":56},{"s":2,"x":275,"y":62.5},{"s":2,"x":285,"y":57.5},{"s":2,"x":295,"y":63},{"s":2,"x":305,"y":58.5},{"s":2,"x":315,"y":63.5},{"s":2,"x":325,"y":59.5},{"s":2,"x":335,"y":64},{"s":2,"x":345,"y":60.5},{"s":2,"x":355,"y":64.3},{"s":2,"x":365,"y":58},{"s":2,"x":375,"y":64.5},{"s":2,"x":385,"y":61.5},{"s":2,"x":395,"y":64.8},{"s":2,"x":405,"y":62.5},{"s":2,"x":415,"y":64.9},{"s":2,"x":425,"y":63},{"s":2,"x":435,"y":65},{"s":2,"x":445,"y":63.5},{"s":2,"x":455,"y":65},{"s":2,"x":465,"y":64},{"s":2,"x":475,"y":65},{"s":2,"x":485,"y":64.3},{"s":2,"x":495,"y":64.9},{"s":2,"x":540,"y":64.8},{"s":2,"x":580,"y":64.7},{"s":2,"x":620,"y":64.6},{"s":2,"x":660,"y":64.6},{"s":2,"x":700,"y":64.5},{"s":2,"x":750,"y":64.5},{"s":2,"x":800,"y":64.5},{"s":2,"x":850,"y":64.5},{"s":2,"x":900,"y":64.5},{"s":2,"x":950,"y":64.5},{"s":2,"x":1000,"y":64.5},
  {"s":3,"x":3,"y":10},{"s":3,"x":9,"y":18},{"s":3,"x":15,"y":17.5},{"s":3,"x":21,"y":26},{"s":3,"x":27,"y":21.5},{"s":3,"x":33,"y":29.5},{"s":3,"x":39,"y":24.5},{"s":3,"x":45,"y":31.5},{"s":3,"x":51,"y":27},{"s":3,"x":57,"y":33.5},{"s":3,"x":63,"y":28},{"s":3,"x":69,"y":35},{"s":3,"x":75,"y":29.5},{"s":3,"x":81,"y":36},{"s":3,"x":87,"y":30.5},{"s":3,"x":93,"y":37.5},{"s":3,"x":99,"y":32},{"s":3,"x":105,"y":39},{"s":3,"x":111,"y":34},{"s":3,"x":117,"y":40},{"s":3,"x":123,"y":35.5},{"s":3,"x":130,"y":41.5},{"s":3,"x":140,"y":37},{"s":3,"x":150,"y":43},{"s":3,"x":160,"y":38.5},{"s":3,"x":170,"y":44},{"s":3,"x":180,"y":39.5},{"s":3,"x":190,"y":45},{"s":3,"x":200,"y":41},{"s":3,"x":210,"y":46.5},{"s":3,"x":220,"y":42},{"s":3,"x":230,"y":47.5},{"s":3,"x":240,"y":43},{"s":3,"x":250,"y":48.5},{"s":3,"x":260,"y":44.5},{"s":3,"x":270,"y":49.5},{"s":3,"x":280,"y":45},{"s":3,"x":290,"y":50},{"s":3,"x":300,"y":46},{"s":3,"x":310,"y":50.5},{"s":3,"x":320,"y":46.5},{"s":3,"x":330,"y":51},{"s":3,"x":340,"y":47.5},{"s":3,"x":350,"y":51.5},{"s":3,"x":360,"y":48},{"s":3,"x":370,"y":52},{"s":3,"x":380,"y":48.5},{"s":3,"x":390,"y":52.3},{"s":3,"x":400,"y":49.5},{"s":3,"x":410,"y":52.5},{"s":3,"x":420,"y":50},{"s":3,"x":430,"y":52.7},{"s":3,"x":440,"y":49},{"s":3,"x":450,"y":52.8},{"s":3,"x":460,"y":51.5},{"s":3,"x":470,"y":52.9},{"s":3,"x":480,"y":52.6},{"s":3,"x":490,"y":52.9},{"s":3,"x":500,"y":52.7},{"s":3,"x":530,"y":52.8},{"s":3,"x":560,"y":52.7},{"s":3,"x":590,"y":52.7},{"s":3,"x":620,"y":52.6},{"s":3,"x":650,"y":52.6},{"s":3,"x":680,"y":52.6},{"s":3,"x":700,"y":52.6},
  {"s":4,"x":4,"y":12},{"s":4,"x":10,"y":22},{"s":4,"x":16,"y":21.5},{"s":4,"x":22,"y":31},{"s":4,"x":28,"y":27},{"s":4,"x":34,"y":35.5},{"s":4,"x":40,"y":30.5},{"s":4,"x":46,"y":40},{"s":4,"x":52,"y":34},{"s":4,"x":58,"y":42.5},{"s":4,"x":64,"y":35.5},{"s":4,"x":70,"y":44.5},{"s":4,"x":76,"y":37},{"s":4,"x":82,"y":46},{"s":4,"x":88,"y":39},{"s":4,"x":94,"y":49.5},{"s":4,"x":100,"y":40.5},{"s":4,"x":106,"y":52},{"s":4,"x":112,"y":44.5},{"s":4,"x":118,"y":54.5},{"s":4,"x":125,"y":47},{"s":4,"x":135,"y":56.5},{"s":4,"x":145,"y":49.5},{"s":4,"x":155,"y":58},{"s":4,"x":165,"y":51.5},{"s":4,"x":175,"y":59.5},{"s":4,"x":185,"y":53},{"s":4,"x":195,"y":60.5},{"s":4,"x":205,"y":54},{"s":4,"x":215,"y":61},{"s":4,"x":225,"y":55},{"s":4,"x":235,"y":62},{"s":4,"x":245,"y":56.5},{"s":4,"x":255,"y":62.5},{"s":4,"x":265,"y":57},{"s":4,"x":275,"y":63},{"s":4,"x":285,"y":58.5},{"s":4,"x":295,"y":63.5},{"s":4,"x":305,"y":59.5},{"s":4,"x":315,"y":64},{"s":4,"x":325,"y":60},{"s":4,"x":335,"y":64.3},{"s":4,"x":345,"y":61},{"s":4,"x":355,"y":64.5},{"s":4,"x":365,"y":64.5},{"s":4,"x":375,"y":56.7},{"s":4,"x":385,"y":64.7},{"s":4,"x":395,"y":62},{"s":4,"x":405,"y":65},{"s":4,"x":415,"y":62.8},{"s":4,"x":425,"y":65},{"s":4,"x":435,"y":63.5},{"s":4,"x":445,"y":61.5},{"s":4,"x":455,"y":65},{"s":4,"x":465,"y":64.2},{"s":4,"x":475,"y":65},{"s":4,"x":485,"y":64.5},{"s":4,"x":495,"y":64.9},{"s":4,"x":540,"y":64.8},{"s":4,"x":580,"y":64.7},{"s":4,"x":620,"y":64.7},{"s":4,"x":660,"y":64.6},{"s":4,"x":700,"y":64.6},{"s":4,"x":750,"y":64.6},{"s":4,"x":800,"y":64.6},{"s":4,"x":850,"y":64.6},{"s":4,"x":900,"y":64.6},{"s":4,"x":950,"y":64.6},{"s":4,"x":1000,"y":64.6}
 ]
},
"columns": 3,
"spacing": {"row": 95, "column": 84},
"bounds": "flush",
"resolve": {"scale": {"color": "independent"}, "legend": {"color": "independent"}},
"concat": [
   {"width": 265, "height": 199, "data": {"name": "a"}, "mark": {"type": "line", "clip": true},
    "title": {"text": "(a)\u00a0\u00a0MNIST, IID", "dx": -8},
    "encoding": {
     "x": {"field": "x", "type": "quantitative", "scale": {"domain": [0, 50], "nice": false, "zero": false}, "axis": {"values": [0, 10, 20, 30, 40, 50], "title": "Running time"}},
     "y": {"field": "y", "type": "quantitative", "scale": {"domain": [80, 100], "nice": false, "zero": false}, "axis": {"values": [80, 85, 90, 95, 100], "title": "Test accuracy"}},
     "color": {"field": "s", "type": "nominal", "scale": {"domain": [1, 2, 3, 4], "range": ["#0072BD", "#D95319", "#7E2F8E", "#EDB120"]}, "legend": {"title": null, "orient": "none", "legendX": 52, "legendY": 91, "labelExpr": "['', 'Symmetric: u=0,v=30', 'Symmetric: u=20,v=10', 'Symmetric: u=30,v=0', 'Asymmetric'][datum.value]"}}
    }},
   {"width": 270, "height": 199, "data": {"name": "b"}, "mark": {"type": "line", "clip": true},
    "title": {"text": "(b)\u00a0\u00a0FMNIST, IID", "dx": -3},
    "encoding": {
     "x": {"field": "x", "type": "quantitative", "scale": {"domain": [0, 180], "nice": false, "zero": false}, "axis": {"values": [0, 30, 60, 90, 120, 150, 180], "title": "Running time"}},
     "y": {"field": "y", "type": "quantitative", "scale": {"domain": [82, 90.5], "nice": false, "zero": false}, "axis": {"values": [82, 84, 86, 88, 90], "title": "Test accuracy"}},
     "color": {"field": "s", "type": "nominal", "scale": {"domain": [1, 2, 3, 4], "range": ["#0072BD", "#D95319", "#7E2F8E", "#EDB120"]}, "legend": {"title": null, "orient": "none", "legendX": 43, "legendY": 91, "labelExpr": "['', 'Symmetric: u=0,v=30', 'Symmetric: u=20,v=10', 'Symmetric: u=30,v=0', 'Asymmetric'][datum.value]"}}
    }},
   {"width": 270, "height": 199, "data": {"name": "c"}, "mark": {"type": "line", "clip": true},
    "title": {"text": "(c)\u00a0\u00a0CIFAR10, IID", "dx": 0},
    "encoding": {
     "x": {"field": "x", "type": "quantitative", "scale": {"domain": [0, 180], "nice": false, "zero": false}, "axis": {"values": [0, 30, 60, 90, 120, 150, 180], "title": "Running time"}},
     "y": {"field": "y", "type": "quantitative", "scale": {"domain": [20, 80], "nice": false, "zero": false}, "axis": {"values": [20, 30, 40, 50, 60, 70, 80], "title": "Test accuracy"}},
     "color": {"field": "s", "type": "nominal", "scale": {"domain": [1, 2, 3, 4], "range": ["#0072BD", "#D95319", "#7E2F8E", "#EDB120"]}, "legend": {"title": null, "orient": "none", "legendX": 75, "legendY": 91, "labelExpr": "['', 'Symmetric: u=0,v=30', 'Symmetric: u=20,v=10', 'Symmetric: u=30,v=0', 'Asymmetric'][datum.value]"}}
    }},
   {"width": 265, "height": 199, "data": {"name": "d"}, "mark": {"type": "line", "clip": true},
    "title": {"text": "(d)\u00a0\u00a0MNIST, device nonIID, cell IID", "dx": -12},
    "encoding": {
     "x": {"field": "x", "type": "quantitative", "scale": {"domain": [0, 150], "nice": false, "zero": false}, "axis": {"values": [0, 50, 100, 150], "title": "Running time"}},
     "y": {"field": "y", "type": "quantitative", "scale": {"domain": [75, 100], "nice": false, "zero": false}, "axis": {"values": [75, 80, 85, 90, 95, 100], "title": "Test accuracy"}},
     "color": {"field": "s", "type": "nominal", "scale": {"domain": [1, 2, 3, 4], "range": ["#0072BD", "#D95319", "#7E2F8E", "#EDB120"]}, "legend": {"title": null, "orient": "none", "legendX": 62, "legendY": 114, "labelExpr": "['', 'Symmetric: u=0,v=30', 'Symmetric: u=20,v=10', 'Symmetric: u=30,v=0', 'Asymmetric'][datum.value]"}}
    }},
   {"width": 270, "height": 199, "data": {"name": "e"}, "mark": {"type": "line", "clip": true},
    "title": {"text": "(e)\u00a0\u00a0FMNIST, device nonIID, cell IID", "dx": -10},
    "encoding": {
     "x": {"field": "x", "type": "quantitative", "scale": {"domain": [0, 150], "nice": false, "zero": false}, "axis": {"values": [0, 30, 60, 90, 120, 150], "title": "Running time"}},
     "y": {"field": "y", "type": "quantitative", "scale": {"domain": [60, 87], "nice": false, "zero": false}, "axis": {"values": [60, 65, 70, 75, 80, 85], "title": "Test accuracy"}},
     "color": {"field": "s", "type": "nominal", "scale": {"domain": [1, 2, 3, 4], "range": ["#0072BD", "#D95319", "#7E2F8E", "#EDB120"]}, "legend": {"title": null, "orient": "none", "legendX": 78, "legendY": 112, "labelExpr": "['', 'Symmetric: u=0,v=30', 'Symmetric: u=20,v=10', 'Symmetric: u=30,v=0', 'Asymmetric'][datum.value]"}}
    }},
   {"width": 270, "height": 199, "data": {"name": "f"}, "mark": {"type": "line", "clip": true},
    "title": {"text": "(f)\u00a0\u00a0CIFAR10, device nonIID, cell IID", "dx": -8},
    "encoding": {
     "x": {"field": "x", "type": "quantitative", "scale": {"domain": [0, 1000], "nice": false, "zero": false}, "axis": {"values": [0, 200, 400, 600, 800, 1000], "title": "Running time"}},
     "y": {"field": "y", "type": "quantitative", "scale": {"domain": [10, 70], "nice": false, "zero": false}, "axis": {"values": [10, 20, 30, 40, 50, 60, 70], "title": "Test accuracy"}},
     "color": {"field": "s", "type": "nominal", "scale": {"domain": [1, 2, 3, 4], "range": ["#0072BD", "#D95319", "#7E2F8E", "#EDB120"]}, "legend": {"title": null, "orient": "none", "legendX": 78, "legendY": 115, "labelExpr": "['', 'Symmetric: u=0,v=30', 'Symmetric: u=20,v=10', 'Symmetric: u=30,v=0', 'Asymmetric'][datum.value]"}}
    }}
]
}
